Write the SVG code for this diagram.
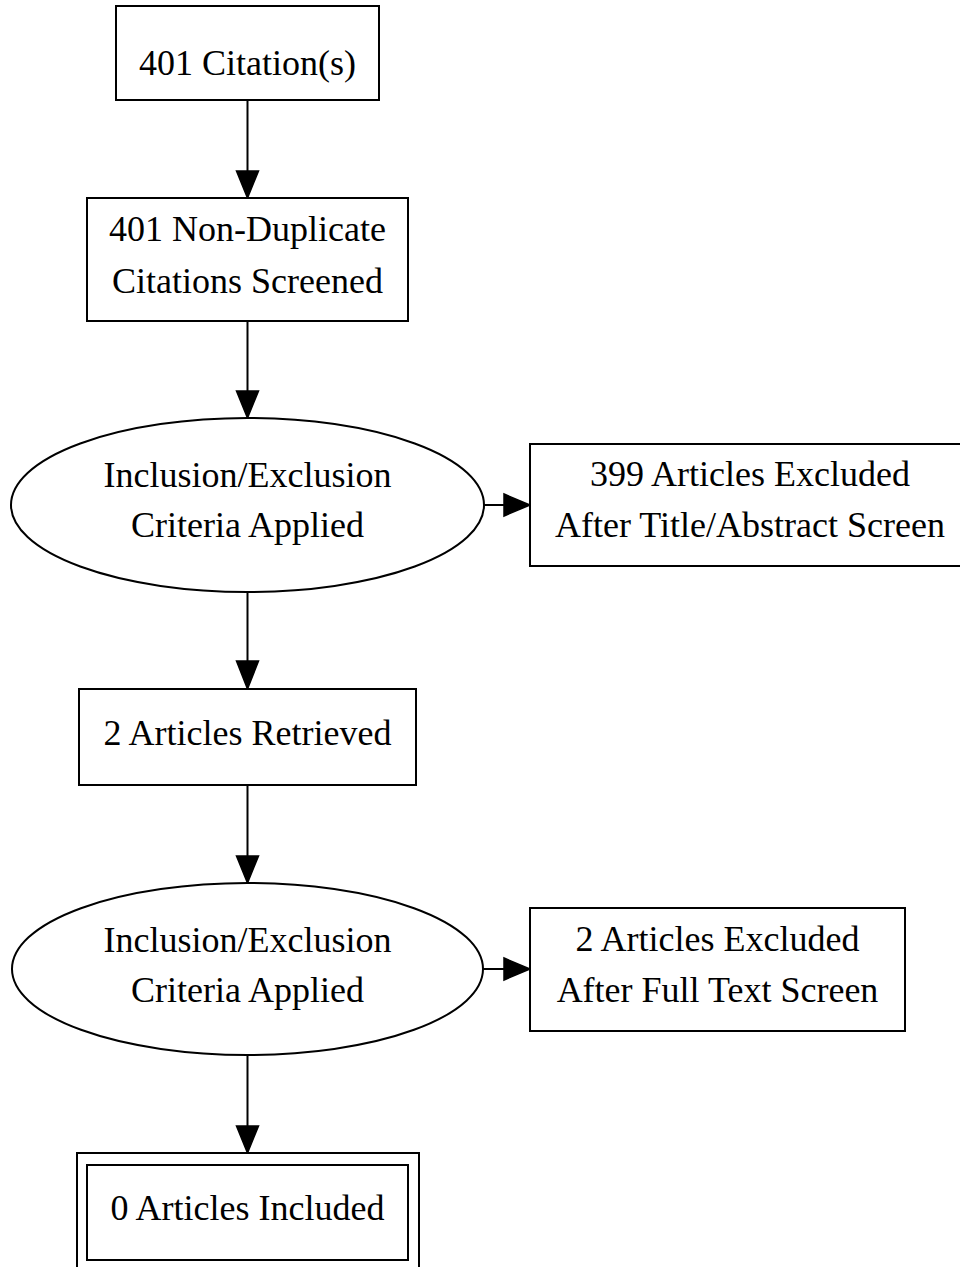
<svg xmlns="http://www.w3.org/2000/svg" width="960" height="1267" viewBox="0 0 960 1267">
<style>
.n{fill:#fff;stroke:#000;stroke-width:2}
.t{font-family:"Liberation Serif","Times New Roman",serif;font-size:36px;fill:#000;text-anchor:middle}
.e{stroke:#000;stroke-width:2;fill:none}
.h{fill:#000;stroke:#000;stroke-width:1.5}
</style>
<rect width="960" height="1267" fill="#fff"/>
<g id="connectors">
<line class="e" x1="247.5" y1="100" x2="247.5" y2="172"/>
<polygon class="h" points="236.5,171 258.5,171 247.5,198"/>
<line class="e" x1="247.5" y1="321" x2="247.5" y2="392"/>
<polygon class="h" points="236.5,391 258.5,391 247.5,418"/>
<line class="e" x1="484" y1="505" x2="505" y2="505"/>
<polygon class="h" points="504,494 504,516 530,505"/>
<line class="e" x1="247.5" y1="592" x2="247.5" y2="662"/>
<polygon class="h" points="236.5,661 258.5,661 247.5,689"/>
<line class="e" x1="247.5" y1="785" x2="247.5" y2="857"/>
<polygon class="h" points="236.5,856 258.5,856 247.5,883"/>
<line class="e" x1="483" y1="969" x2="505" y2="969"/>
<polygon class="h" points="504,958 504,980 530,969"/>
<line class="e" x1="247.5" y1="1055" x2="247.5" y2="1127"/>
<polygon class="h" points="236.5,1126 258.5,1126 247.5,1153"/>
</g>
<g id="citations">
<rect class="n" x="116" y="6" width="263" height="94"/>
<text class="t" x="247.5" y="75">401 Citation(s)</text>
</g>
<g id="nondup">
<rect class="n" x="87" y="198" width="321" height="123"/>
<text class="t" x="247.5" y="241">401 Non-Duplicate</text>
<text class="t" x="247.5" y="293">Citations Screened</text>
</g>
<g id="criteria1">
<ellipse class="n" cx="247.5" cy="505" rx="236.5" ry="87"/>
<text class="t" x="247.5" y="487">Inclusion/Exclusion</text>
<text class="t" x="247.5" y="537">Criteria Applied</text>
</g>
<g id="excluded1">
<rect class="n" x="530" y="444" width="440" height="122"/>
<text class="t" x="750" y="486">399 Articles Excluded</text>
<text class="t" x="750" y="537">After Title/Abstract Screen</text>
</g>
<g id="retrieved">
<rect class="n" x="79" y="689" width="337" height="96"/>
<text class="t" x="247.5" y="745">2 Articles Retrieved</text>
</g>
<g id="criteria2">
<ellipse class="n" cx="247.5" cy="969" rx="235.5" ry="86"/>
<text class="t" x="247.5" y="952">Inclusion/Exclusion</text>
<text class="t" x="247.5" y="1002">Criteria Applied</text>
</g>
<g id="excluded2">
<rect class="n" x="530" y="908" width="375" height="123"/>
<text class="t" x="717.5" y="951">2 Articles Excluded</text>
<text class="t" x="717.5" y="1002">After Full Text Screen</text>
</g>
<g id="included">
<rect class="n" x="77" y="1153" width="342" height="130"/>
<rect class="n" x="87" y="1165" width="321" height="95"/>
<text class="t" x="247.5" y="1220">0 Articles Included</text>
</g>
</svg>
